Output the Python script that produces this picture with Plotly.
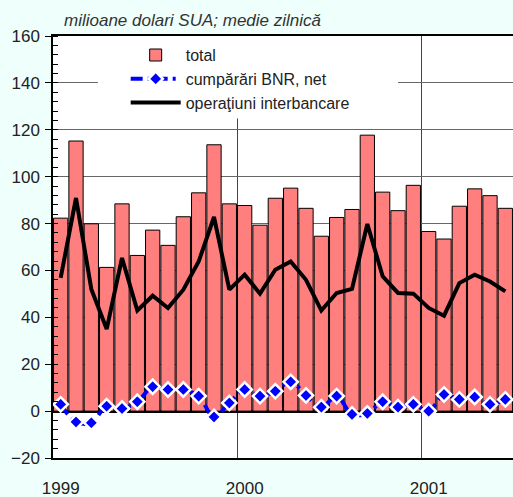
import plotly.graph_objects as go

months = list(range(30))  # Jan 1999 .. Jun 2001
total = [82.3, 115.2, 79.9, 61.3, 88.4, 66.4, 77.2, 70.7, 82.9, 93.1, 113.6, 88.4,
         87.7, 79.3, 90.8, 95.1, 86.5, 74.6, 82.6, 86.0, 117.7, 93.4, 85.5, 96.3,
         76.6, 73.4, 87.4, 94.8, 91.9, 86.5]
bnr = [2.9, -4.6, -5.0, 2.1, 1.1, 4.0, 10.4, 9.2, 9.2, 6.4, -2.5, 3.5,
       9.2, 6.4, 8.5, 12.5, 6.7, 1.7, 6.4, -1.4, -1.0, 4.0, 1.7, 2.9,
       0.0, 7.1, 5.0, 6.0, 2.9, 5.0]
interbank = [56.8, 90.9, 52.0, 35.0, 65.3, 42.9, 49.2, 44.0, 51.8, 63.8, 82.8, 51.8,
             58.2, 50.1, 60.3, 63.8, 56.0, 42.9, 50.4, 52.1, 79.8, 57.5, 50.4, 50.1,
             44.0, 40.7, 54.6, 58.2, 55.3, 51.1]
year_pos = [0, 12, 24]
year_labels = ["1999", "2000", "2001"]
year_bounds = [11.5, 23.5]

FONT = "Liberation Sans, Arial, sans-serif"

fig = go.Figure()
fig.add_trace(go.Bar(x=months, y=total, name="total",
                     marker=dict(color="#FF7F7F", line=dict(color="black", width=1))))
fig.add_trace(go.Scatter(x=months, y=bnr, name="cumpărări BNR, net", mode="lines+markers",
                         line=dict(color="#0000FF", width=4, shape="spline",
                                   dash="12px,5px,3px,5px"),
                         marker=dict(symbol="diamond", size=11, color="#0000FF",
                                     line=dict(color="white", width=2.5))))
fig.add_trace(go.Scatter(x=months, y=interbank, name="operaţiuni interbancare", mode="lines",
                         line=dict(color="black", width=4)))

fig.add_shape(type="rect", xref="x", yref="y", x0=2.43, x1=22.0, y0=124.8, y1=160,
              fillcolor="white", line=dict(width=0), layer="between")

fig.add_annotation(text="milioane dolari SUA; medie zilnică", xref="paper", yref="paper",
                   x=0.019, y=1.0, yshift=4, xanchor="left", yanchor="bottom", showarrow=False,
                   font=dict(family=FONT, size=17, color="#333333", style="italic"))

fig.update_layout(
    template="none",
    width=513, height=497,
    margin=dict(l=53, r=0, t=36, b=39, autoexpand=False),
    paper_bgcolor="#EFFFFB", plot_bgcolor="white",
    font=dict(family=FONT, size=17, color="#222222"),
    bargap=0.07,
    showlegend=True,
    legend=dict(x=0.158, y=0.995, xanchor="left", yanchor="top", bgcolor="rgba(0,0,0,0)",
                font=dict(size=16, color="#222222"), itemwidth=50, tracegroupgap=0),
    xaxis=dict(range=[-0.5, 29.5], tickmode="array", tickvals=year_pos, ticktext=year_labels,
               ticks="", showgrid=False, zeroline=False, showline=True, linecolor="black",
               linewidth=1.5, mirror=True, ticklabelstandoff=14, automargin=False,
               minor=dict(tickmode="array", tickvals=year_bounds, showgrid=True,
                          gridcolor="#444444", gridwidth=1, ticks="")),
    yaxis=dict(range=[-20, 160], dtick=20, ticks="outside", ticklen=6, tickcolor="black",
               showgrid=True, gridcolor="#666666", gridwidth=1, automargin=False,
               zeroline=True, zerolinecolor="black", zerolinewidth=2.5,
               showline=True, linecolor="black", linewidth=1.5, ticklabelstandoff=2,
               minor=dict(dtick=4, ticks="inside", ticklen=5, tickcolor="black", showgrid=False)),
)

fig.write_html("out.html", config={"displayModeBar": False},
               post_script="document.body.style.margin='0';document.body.style.padding='0';"
                           "document.body.style.overflow='hidden';")
